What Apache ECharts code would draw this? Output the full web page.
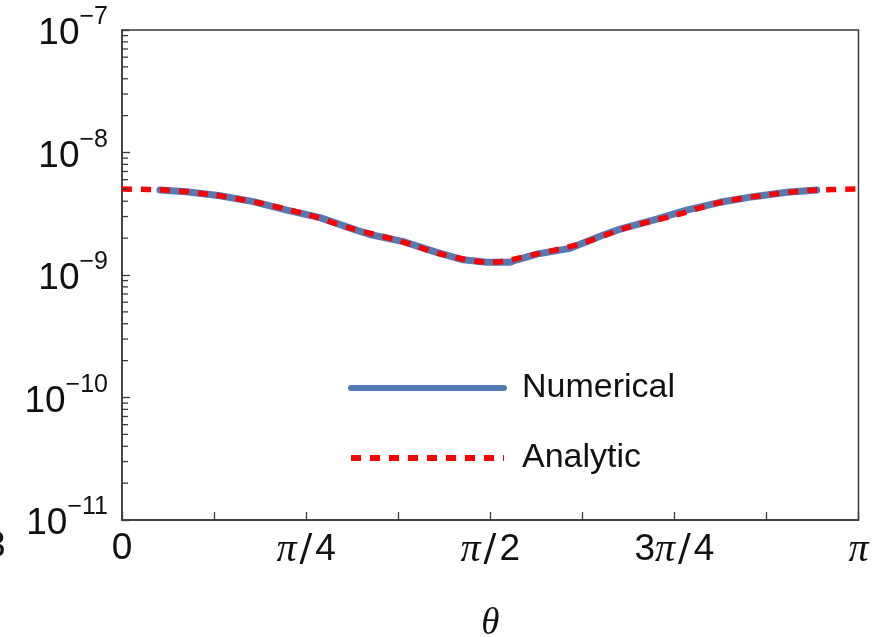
<!DOCTYPE html>
<html>
<head>
<meta charset="utf-8">
<script src="https://cdn.jsdelivr.net/npm/echarts@6/dist/echarts.min.js"></script>
<style>
html,body{margin:0;padding:0;background:#fff;}
#chart{width:880px;height:637px;}
</style>
</head>
<body>
<div id="chart"></div>
<script>
// theta expressed in units of pi
var numTheta = [0.0516, 0.0878, 0.1331, 0.1783, 0.2236, 0.2688, 0.3141, 0.3367, 0.3819, 0.4273, 0.4634, 0.4952, 0.5268, 0.5359, 0.5631, 0.6083, 0.6535, 0.6762, 0.7214, 0.7667, 0.8120, 0.8572, 0.9025, 0.9433];
var numValues = [4.94e-9, 4.79e-9, 4.44e-9, 3.97e-9, 3.39e-9, 2.94e-9, 2.37e-9, 2.14e-9, 1.87e-9, 1.53e-9, 1.33e-9, 1.27e-9, 1.27e-9, 1.33e-9, 1.48e-9, 1.65e-9, 2.12e-9, 2.37e-9, 2.81e-9, 3.39e-9, 3.92e-9, 4.36e-9, 4.73e-9, 4.94e-9];
var anaTheta = [0, 0.0625, 0.125, 0.1875, 0.25, 0.3125, 0.375, 0.4375, 0.5, 0.5625, 0.625, 0.6875, 0.75, 0.8125, 0.875, 0.9375, 1];
var anaValues = [5.03e-9, 4.92e-9, 4.5e-9, 3.86e-9, 3.13e-9, 2.39e-9, 1.91e-9, 1.46e-9, 1.27e-9, 1.48e-9, 1.82e-9, 2.46e-9, 3.06e-9, 3.92e-9, 4.5e-9, 4.92e-9, 5.03e-9];
var xTickLabels = {0: '0', 0.25: '{i|π}{sl|/}4', 0.5: '{i|π}{sl|/}2', 0.75: '3{i|π}{sl|/}4', 1: '{i|π}'};
var minorTickValues = [];
[-11, -10, -9, -8].forEach(function (e) {
  for (var m = 2; m <= 9; m++) minorTickValues.push(m * Math.pow(10, e));
});
var seriesNames = ['Numerical', 'Analytic'];

function zip(a, b) { return a.map(function (v, i) { return [v, b[i]]; }); }

var chart = echarts.init(document.getElementById('chart'));
var fontSans = 'Liberation Sans';
chart.setOption({
  animation: false,
  backgroundColor: '#fff',
  grid: {left: 122, right: 21.5, top: 30, bottom: 117, show: true, borderColor: '#3a3a3a', borderWidth: 1.5, backgroundColor: 'transparent', containLabel: false, outerBoundsMode: 'none'},
  xAxis: {
    type: 'value', min: 0, max: 1, interval: 0.125,
    axisLine: {show: true, lineStyle: {color: '#3a3a3a', width: 1.5}},
    axisTick: {show: true, inside: true, length: 8, lineStyle: {color: '#3a3a3a', width: 1.3}},
    splitLine: {show: false},
    axisLabel: {
      margin: 10, color: '#111', fontFamily: fontSans, fontSize: 37,
      formatter: function (v) { var k = Math.round(v * 1000) / 1000; return xTickLabels[k] !== undefined ? xTickLabels[k] : ''; },
      rich: {
        i: {fontFamily: 'Liberation Serif', fontStyle: 'italic', fontSize: 40, color: '#111'},
        sl: {fontFamily: 'DejaVu Sans', fontSize: 38, color: '#111', padding: [0, 3, 0, 3]}
      }
    },
    name: 'θ', nameLocation: 'middle', nameGap: 86,
    nameTextStyle: {fontFamily: 'Liberation Serif', fontStyle: 'italic', fontSize: 37, color: '#111'}
  },
  yAxis: {
    type: 'log', logBase: 10, min: 1e-11, max: 1e-7,
    axisLine: {show: true, lineStyle: {color: '#3a3a3a', width: 1.5}},
    axisTick: {show: true, inside: true, length: 8, lineStyle: {color: '#3a3a3a', width: 1.3}},
    splitLine: {show: false},
    axisLabel: {
      margin: 14, color: '#111',
      formatter: function (v) { var e = Math.round(Math.log(v) / Math.LN10); return '{b|10}{s|−' + (-e) + '}'; },
      rich: {
        b: {fontFamily: fontSans, fontSize: 37, lineHeight: 50, color: '#111', padding: [8, 0, 0, 0]},
        s: {fontFamily: fontSans, fontSize: 25, lineHeight: 25, verticalAlign: 'top', color: '#111'}
      }
    }
  },
  legend: {
    left: 343, top: 366, orient: 'vertical', itemWidth: 153, itemHeight: 28, itemGap: 36,
    textStyle: {fontFamily: fontSans, fontSize: 34, lineHeight: 28, color: '#111', padding: [0, 0, 0, 13]},
    data: [
      {name: seriesNames[0], lineStyle: {width: 6}, itemStyle: {opacity: 0, borderWidth: 0}},
      {name: seriesNames[1], lineStyle: {width: 6}, itemStyle: {opacity: 0, borderWidth: 0}}
    ]
  },
  graphic: [{type: 'text', left: -15, top: 528, style: {text: '3', font: '37px "Liberation Sans"', fill: '#111'}}],
  series: [
    {
      name: seriesNames[0], type: 'line', data: zip(numTheta, numValues),
      showSymbol: false, symbol: 'none', smooth: false,
      lineStyle: {color: '#5579b3', width: 7, cap: 'round', join: 'round'},
      itemStyle: {color: '#5579b3'}, z: 2
    },
    {
      name: seriesNames[1], type: 'line', data: zip(anaTheta, anaValues),
      showSymbol: false, symbol: 'none', smooth: 0.3,
      lineStyle: {color: '#ff0000', width: 5.5, type: [10, 9]},
      itemStyle: {color: '#ff0000'}, z: 3
    },
    {
      name: 'minorTicks', type: 'custom', data: minorTickValues.map(function (v) { return [0, v]; }),
      silent: true, z: 5,
      renderItem: function (params, api) {
        var p = api.coord([api.value(0), api.value(1)]);
        return {type: 'line', shape: {x1: p[0], y1: p[1], x2: p[0] + 6, y2: p[1]}, style: {stroke: '#3a3a3a', lineWidth: 1.3}};
      }
    }
  ]
});
</script>
</body>
</html>
